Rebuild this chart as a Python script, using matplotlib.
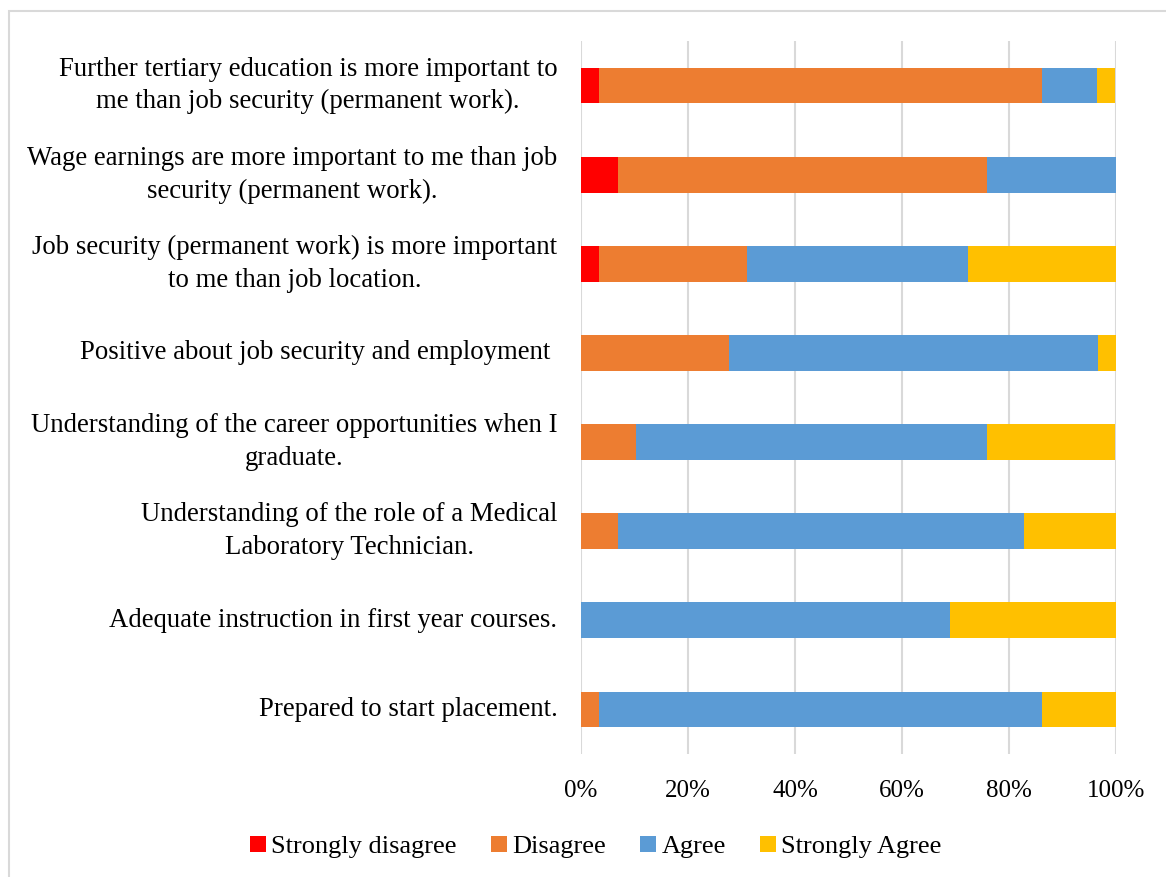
import matplotlib.pyplot as plt
from matplotlib.patches import Rectangle

# survey statements, top to bottom
statements = [
    "Further tertiary education is more important to\nme than job security (permanent work).",
    "Wage earnings are more important to me than job\nsecurity (permanent work).",
    "Job security (permanent work) is more important\nto me than job location.",
    "Positive about job security and employment ",
    "Understanding of the career opportunities when I\ngraduate.",
    "Understanding of the role of a Medical\nLaboratory Technician.",
    "Adequate instruction in first year courses.",
    "Prepared to start placement.",
]

# response shares in percent
strongly_disagree = [3.4, 6.9, 3.4, 0.0, 0.0, 0.0, 0.0, 0.0]
disagree = [82.8, 69.0, 27.6, 27.6, 10.3, 6.9, 0.0, 3.4]
agree = [10.3, 24.1, 41.4, 69.0, 65.5, 75.9, 69.0, 82.8]
strongly_agree = [3.4, 0.0, 27.6, 3.4, 24.1, 17.2, 31.0, 13.8]

series = [
    ("Strongly disagree", strongly_disagree, "#FF0000"),
    ("Disagree", disagree, "#ED7D31"),
    ("Agree", agree, "#5B9BD5"),
    ("Strongly Agree", strongly_agree, "#FFC000"),
]

plt.rcParams['font.family'] = ['Liberation Serif', 'DejaVu Serif']

fig = plt.figure(figsize=(11.66, 8.77), dpi=100)
ax = fig.add_axes([581 / 1166, 1 - 754 / 877, 535 / 1166, 713 / 877])

ypos = list(range(len(statements)))
left = [0.0] * len(statements)
for name, vals, color in series:
    ax.barh(ypos, vals, left=left, height=0.4, color=color, label=name, zorder=3)
    left = [a + b for a, b in zip(left, vals)]

ax.set_ylim(len(statements) - 0.5, -0.5)
ax.set_xlim(0, 100)
ax.set_yticks(ypos)
ax.set_yticklabels(statements, fontsize=19.3, multialignment='center',
                   linespacing=1.4, va='center')
ax.set_xticks(range(0, 101, 20))
ax.set_xticklabels([f"{t}%" for t in range(0, 101, 20)], fontsize=18)
ax.tick_params(axis='y', length=0, pad=17)
ax.tick_params(axis='x', length=0, pad=19)
ax.grid(axis='x', color='#D9D9D9', linewidth=1.5, zorder=0)
for s in ax.spines.values():
    s.set_visible(False)

fig.legend(loc='center', bbox_to_anchor=(596 / 1166, 1 - 847 / 877), ncol=4,
           frameon=False, fontsize=19, handlelength=0.6, handleheight=0.6,
           handletextpad=0.2, columnspacing=1.3)

# thin frame around the chart area
fig.patches.append(Rectangle((9 / 1166, -0.1), 1.2, 1 - 11 / 877 + 0.1,
                             transform=fig.transFigure, fill=False,
                             edgecolor='#D9D9D9', linewidth=1.5))

fig.savefig("out.png", dpi=100)
